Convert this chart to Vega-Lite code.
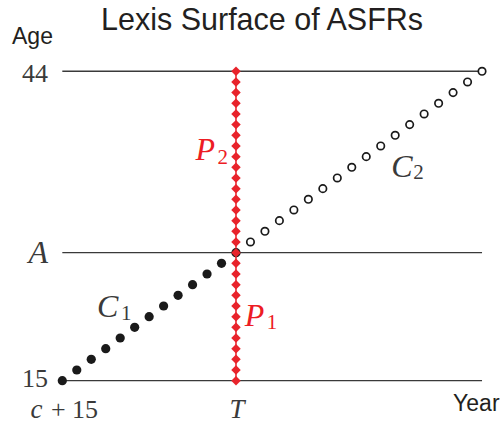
{
  "$schema": "https://vega.github.io/schema/vega-lite/v6.json",
  "width": 502,
  "height": 424,
  "autosize": "none",
  "padding": 0,
  "background": "white",
  "view": {"stroke": null},
  "encoding": {
    "x": {"field": "year", "type": "quantitative", "scale": {"domain": [10.695, 45.38], "nice": false, "zero": false}, "axis": null},
    "y": {"field": "age", "type": "quantitative", "scale": {"domain": [10.94, 50.68], "nice": false, "zero": false}, "axis": null}
  },
  "layer": [
    {
      "data": {"values": [
        {"year": 15, "year2": 44, "age": 15},
        {"year": 15, "year2": 44, "age": 27},
        {"year": 15, "year2": 44, "age": 44}
      ]},
      "mark": {"type": "rule", "color": "#3a3a3a", "strokeWidth": 1.3},
      "encoding": {"x2": {"field": "year2"}}
    },
    {
      "data": {"values": [{"year": 27, "age": 15, "age2": 44}]},
      "mark": {"type": "rule", "color": "#e8232b", "strokeWidth": 1.5},
      "encoding": {"y2": {"field": "age2"}}
    },
    {
      "data": {"values": [
        {"year": 15, "age": 15}, {"year": 16, "age": 16}, {"year": 17, "age": 17}, {"year": 18, "age": 18},
        {"year": 19, "age": 19}, {"year": 20, "age": 20}, {"year": 21, "age": 21}, {"year": 22, "age": 22},
        {"year": 23, "age": 23}, {"year": 24, "age": 24}, {"year": 25, "age": 25}, {"year": 26, "age": 26},
        {"year": 27, "age": 27}
      ]},
      "mark": {"type": "point", "shape": "circle", "filled": true, "color": "#1a1a1a", "size": 85, "opacity": 1}
    },
    {
      "data": {"values": [
        {"year": 27, "age": 15}, {"year": 27, "age": 16}, {"year": 27, "age": 17}, {"year": 27, "age": 18},
        {"year": 27, "age": 19}, {"year": 27, "age": 20}, {"year": 27, "age": 21}, {"year": 27, "age": 22},
        {"year": 27, "age": 23}, {"year": 27, "age": 24}, {"year": 27, "age": 25}, {"year": 27, "age": 26},
        {"year": 27, "age": 27}, {"year": 27, "age": 28}, {"year": 27, "age": 29}, {"year": 27, "age": 30},
        {"year": 27, "age": 31}, {"year": 27, "age": 32}, {"year": 27, "age": 33}, {"year": 27, "age": 34},
        {"year": 27, "age": 35}, {"year": 27, "age": 36}, {"year": 27, "age": 37}, {"year": 27, "age": 38},
        {"year": 27, "age": 39}, {"year": 27, "age": 40}, {"year": 27, "age": 41}, {"year": 27, "age": 42},
        {"year": 27, "age": 43}, {"year": 27, "age": 44}
      ]},
      "mark": {"type": "point", "shape": "diamond", "filled": true, "color": "#e8232b", "size": 90, "opacity": 1}
    },
    {
      "data": {"values": [
        {"year": 28, "age": 28}, {"year": 29, "age": 29}, {"year": 30, "age": 30}, {"year": 31, "age": 31},
        {"year": 32, "age": 32}, {"year": 33, "age": 33}, {"year": 34, "age": 34}, {"year": 35, "age": 35},
        {"year": 36, "age": 36}, {"year": 37, "age": 37}, {"year": 38, "age": 38}, {"year": 39, "age": 39},
        {"year": 40, "age": 40}, {"year": 41, "age": 41}, {"year": 42, "age": 42}, {"year": 43, "age": 43},
        {"year": 44, "age": 44}
      ]},
      "mark": {"type": "point", "shape": "circle", "filled": false, "color": "#1a1a1a", "fill": "white", "size": 55, "strokeWidth": 1.7, "opacity": 1}
    },
    {
      "data": {"values": [
        {"label": "Lexis Surface of ASFRs", "year": 28.8, "age": 47.87}
      ]},
      "mark": {"type": "text", "font": "Liberation Sans", "fontSize": 30.5, "align": "center", "baseline": "alphabetic", "color": "#231f20"},
      "encoding": {"text": {"field": "label"}}
    },
    {
      "data": {"values": [
        {"label": "Age", "year": 11.524, "age": 46.56},
        {"label": "Year", "year": 42.0, "age": 12.16}
      ]},
      "mark": {"type": "text", "font": "Liberation Sans", "fontSize": 23, "align": "left", "baseline": "alphabetic", "color": "#231f20"},
      "encoding": {"text": {"field": "label"}}
    },
    {
      "data": {"values": [
        {"label": "44", "year": 14.01, "age": 43.0},
        {"label": "15", "year": 14.01, "age": 14.41},
        {"label": "+ 15", "year": 17.47, "age": 11.5}
      ]},
      "mark": {"type": "text", "font": "Liberation Serif", "fontSize": 26, "align": "right", "baseline": "alphabetic", "color": "#3a3a3a"},
      "encoding": {"text": {"field": "label"}}
    },
    {
      "data": {"values": [
        {"label": "A", "year": 14.01, "age": 26.03}
      ]},
      "mark": {"type": "text", "font": "Liberation Serif", "fontStyle": "italic", "fontSize": 32, "align": "right", "baseline": "alphabetic", "color": "#3a3a3a"},
      "encoding": {"text": {"field": "label"}}
    },
    {
      "data": {"values": [
        {"label": "c", "year": 12.8, "age": 11.5}
      ]},
      "mark": {"type": "text", "font": "Liberation Serif", "fontStyle": "italic", "fontSize": 27, "align": "left", "baseline": "alphabetic", "color": "#3a3a3a"},
      "encoding": {"text": {"field": "label"}}
    },
    {
      "data": {"values": [
        {"label": "T", "year": 27.07, "age": 11.5}
      ]},
      "mark": {"type": "text", "font": "Liberation Serif", "fontStyle": "italic", "fontSize": 27, "align": "center", "baseline": "alphabetic", "color": "#3a3a3a"},
      "encoding": {"text": {"field": "label"}}
    },
    {
      "data": {"values": [
        {"label": "C", "year": 17.4, "age": 20.97},
        {"label": "C", "year": 37.72, "age": 34.09}
      ]},
      "mark": {"type": "text", "font": "Liberation Serif", "fontStyle": "italic", "fontSize": 32, "align": "left", "baseline": "alphabetic", "color": "#3a3a3a"},
      "encoding": {"text": {"field": "label"}}
    },
    {
      "data": {"values": [
        {"label": "1", "year": 19.06, "age": 20.69},
        {"label": "2", "year": 39.24, "age": 33.9}
      ]},
      "mark": {"type": "text", "font": "Liberation Serif", "fontSize": 21, "align": "left", "baseline": "alphabetic", "color": "#3a3a3a"},
      "encoding": {"text": {"field": "label"}}
    },
    {
      "data": {"values": [
        {"label": "P", "year": 24.2, "age": 35.68},
        {"label": "P", "year": 27.6, "age": 20.13}
      ]},
      "mark": {"type": "text", "font": "Liberation Serif", "fontStyle": "italic", "fontSize": 32, "align": "left", "baseline": "alphabetic", "color": "#ed1c24"},
      "encoding": {"text": {"field": "label"}}
    },
    {
      "data": {"values": [
        {"label": "2", "year": 25.72, "age": 35.31},
        {"label": "1", "year": 29.12, "age": 19.85}
      ]},
      "mark": {"type": "text", "font": "Liberation Serif", "fontSize": 21, "align": "left", "baseline": "alphabetic", "color": "#ed1c24"},
      "encoding": {"text": {"field": "label"}}
    }
  ]
}
